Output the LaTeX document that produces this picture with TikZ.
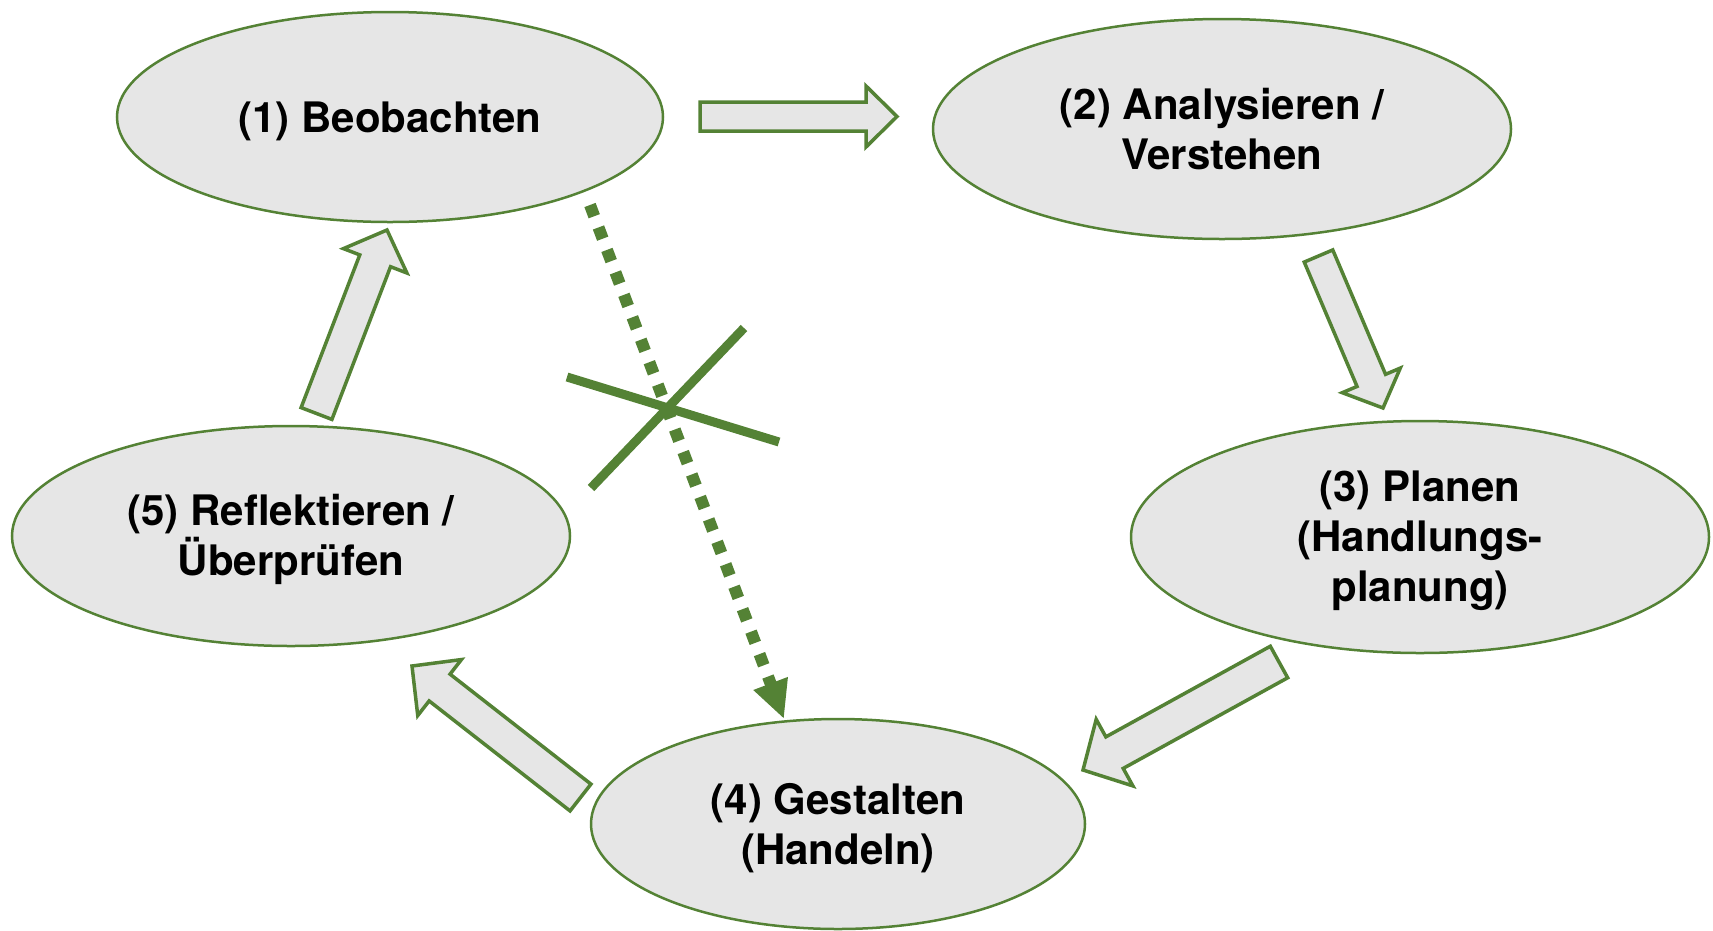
\documentclass[tikz,border=0pt]{standalone}
\usepackage{fontspec}
\setmainfont{TeX Gyre Heros}
\usetikzlibrary{shapes.geometric,arrows.meta,calc}
\definecolor{grn}{HTML}{548235}
\definecolor{lgray}{HTML}{E6E6E6}
\newcommand{\blockarr}[5]{% tail, tip, shaft half, head half, head length
  \coordinate (h) at ($(#2)!#5!(#1)$);
  \draw[barrowstyle] ($(#1)!#3!90:(#2)$) -- ($(h)!#3!90:(#2)$) -- ($(h)!#4!90:(#2)$) -- (#2)
    -- ($(h)!#4!-90:(#2)$) -- ($(h)!#3!-90:(#2)$) -- ($(#1)!#3!-90:(#2)$) -- cycle;
}
\newcommand{\dn}{\rule{0pt}{39pt}}
\begin{document}
\begin{tikzpicture}[x=1pt,y=-1pt,
  phase/.style={ellipse, draw=grn, line width=2.5pt, fill=lgray, inner sep=0pt,
    align=center, font=\fontsize{42}{50}\selectfont\bfseries},
  barrowstyle/.style={draw=grn, fill=lgray, line width=3.5pt, line join=miter},
]
\useasboundingbox (0,0) rectangle (1713,930);
\node[phase, minimum width=546pt, minimum height=210pt] (e1) at (390,117) {\dn(1) Beobachten};
\node[phase, minimum width=578pt, minimum height=220pt] (e2) at (1222,129) {(2) Analysieren /\\Verstehen};
\node[phase, minimum width=578pt, minimum height=232pt] (e3) at (1420,537) {\dn(3) Planen\\(Handlungs-\\planung)};
\node[phase, minimum width=494pt, minimum height=210pt] (e4) at (838,824) {\dn(4) Gestalten\\(Handeln)};
\node[phase, minimum width=558pt, minimum height=220pt] (e5) at (291,536) {\dn(5) Reflektieren /\\Überprüfen};

% block arrows
\coordinate (a1t) at (700,116.5); \coordinate (a1h) at (897,116.5);
\blockarr{a1t}{a1h}{14.5pt}{30.5pt}{31pt}
\coordinate (a2t) at (1318.5,256); \coordinate (a2h) at (1383,408);
\blockarr{a2t}{a2h}{15.5pt}{31.5pt}{30pt}
\coordinate (a3t) at (1279,662); \coordinate (a3h) at (1083,770);
\blockarr{a3t}{a3h}{18pt}{38pt}{36pt}
\coordinate (a4t) at (580.5,797.5); \coordinate (a4h) at (412,666);
\blockarr{a4t}{a4h}{17pt}{35.5pt}{35pt}
\coordinate (a5t) at (316.5,413.5); \coordinate (a5h) at (387,230);
\blockarr{a5t}{a5h}{16.5pt}{34pt}{33pt}

% dotted arrow
\coordinate (ds) at (590,205);
\coordinate (de) at (784,719);
\draw[grn, line width=12pt, dash pattern=on 12pt off 12pt,
  -{Triangle[width=34pt,length=38pt]}] (ds) -- (de);

% cross
\coordinate (c1a) at (567,377); \coordinate (c1b) at (779,442);
\coordinate (c2a) at (591,488); \coordinate (c2b) at (744,328);
\draw[grn, line width=9pt] (c1a) -- (c1b);
\draw[grn, line width=9pt] (c2a) -- (c2b);
\end{tikzpicture}
\end{document}
